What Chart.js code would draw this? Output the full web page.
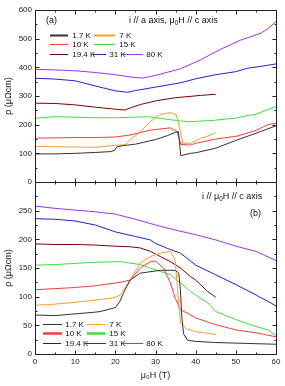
<!DOCTYPE html>
<html>
<head>
<meta charset="utf-8">
<script src="https://cdn.jsdelivr.net/npm/chart.js@4.4.1/dist/chart.umd.min.js"></script>
<style>
  html, body { margin: 0; padding: 0; background: #fff; }
</style>
</head>
<body>
<canvas id="chart" width="285" height="386"></canvas>
<script>
// tick values
var fieldTicks = [0, 10, 20, 30, 40, 50, 60];
var topTicks = [0, 100, 200, 300, 400, 500, 600];
var bottomTicks = [0, 50, 100, 150, 200, 250];

var temps = ['1.7 K', '7 K', '10 K', '15 K', '19.4 K', '31 K', '80 K'];
var colors = ['#333333', '#ff9a2e', '#ff3b3b', '#3ddf3d', '#800000', '#2020e0', '#9933ff'];

// panel (a): i // a axis, field // c axis   [field (T), rho (uOhm cm)]
var a1_7K = [[0,98],[5,98],[10,100],[15,103],[18.7,106],[19.8,110],[20.4,123],[22,127],[25,132],[30,148],[33,162],[34.9,173],[35.7,176],[36.3,92],[38.7,100],[40,102],[45,118],[50,145],[55,170],[60,196]];
var a7K = [[0,124],[5,123],[10,122],[15,121],[18.7,126],[20,128],[22.4,130],[24,150],[26.2,175],[28.7,210],[31.2,236],[33.7,242],[35.2,234],[36.2,175],[36.8,135],[38.7,135],[41.2,152],[43,160],[45,172]];
var a10K = [[0,153],[5,154],[10,155],[15,155],[20,157],[23.7,164],[28.7,181],[33.7,189],[35.4,175],[36.3,131],[38.7,129],[40,135],[45,150],[50.3,160],[55,180],[58,200],[60,205]];
var a15K = [[0,222],[5,228],[10,226],[15,224],[20,224],[25,226],[28,228],[30,224],[35,215],[38,210],[44.5,215],[50,223],[52.9,232],[55,236],[58.7,257],[60,263]];
var a19_4K = [[0,275],[5,274],[10,269],[15,261],[20,254],[22.4,251],[24,260],[26.2,270],[30,283],[35,294],[41.2,302],[45,306]];
var a31K = [[0,362],[5,359],[10,353],[15,335],[20,318],[23,313],[25,319],[30,331],[36.2,346],[40,360],[44.5,373],[50,385],[52.9,397],[56,403],[60,412]];
var a80K = [[0,393],[5,391],[10,388],[15,382],[20,374],[25,364],[27,363],[30,372],[33,383],[36.2,395],[41.2,426],[46.2,463],[51.2,495],[56.2,519],[58,535],[60,560]];

// panel (b): i // field // c axis
var b1_7K = [[0,68],[5,67],[10,70],[15,73],[16.2,74],[20,81],[21,90],[22.4,112],[23.7,129],[26.2,141],[31.2,146],[34.9,146],[35.8,141],[36.2,112],[36.6,60],[37,35],[38,24],[40,22],[45,20],[50,19],[55,18],[60,17]];
var b7K = [[0,85],[5,87],[10,90],[15,94],[18.7,97],[20,99],[21.2,103],[23.7,129],[26.2,159],[28.7,170],[31.2,176],[33.7,179],[34.9,164],[35.5,112],[36.2,54],[38,43],[40,39],[45,34]];
var b10K = [[0,112],[5,114],[10,116],[15,119],[21.2,125],[23.7,129],[26.2,150],[28.7,161],[30,162],[32,150],[33.7,124],[34.9,97],[36.2,77],[38,71],[40,63],[45,51],[50,42],[55,37],[60,30]];
var b15K = [[0,155],[5,156],[10,158],[15,160],[21.2,161],[26.2,156],[28.7,150],[31.2,144],[33.7,138],[36.2,124],[38.7,109],[40,103],[43,89],[45,74],[50,60],[55,48],[58,42],[60,32]];
var b19_4K = [[0,192],[5,191],[10,191],[15,190],[20,188],[23.7,187],[26.2,185],[28.7,179],[31.2,170],[33.7,161],[36.2,150],[38.7,135],[40,129],[43,109],[45,99]];
var b31K = [[0,236],[5,235],[10,232],[15,225],[20,213],[25,205],[28.7,199],[30,193],[33,184],[36.2,176],[40,155],[45,138],[50,121],[55,103],[60,84]];
var b80K = [[0,258],[5,254],[10,251],[15,248],[20,244],[25,235],[30,225],[35,216],[40,208],[45,199],[50,188],[55,179],[60,163]];

var seriesA = [a1_7K, a7K, a10K, a15K, a19_4K, a31K, a80K];
var seriesB = [b1_7K, b7K, b10K, b15K, b19_4K, b31K, b80K];

var FONT = '"Liberation Sans", Arial, sans-serif';

function makeSet(points, i, axisId) {
    return {
        label: temps[i],
        data: points.map(function (p) { return { x: p[0], y: p[1] }; }),
        yAxisID: axisId,
        borderColor: colors[i],
        borderWidth: 1,
        pointRadius: 0,
        tension: 0,
        fill: false
    };
}

var datasets = [];
seriesA.forEach(function (s, i) { datasets.push(makeSet(s, i, 'yA')); });
seriesB.forEach(function (s, i) { datasets.push(makeSet(s, i, 'yB')); });

// legend slots: [line start, line end, text x, y, line width]
var legendA = [[50,68,70,35,2],[94,115,117,35,2],[50,68,70,44,1],[94,115,117,44,1],[50,68,70,54,1],[93,106,107,54,1],[123,143,144,54,1]];
var legendB = [[43,62,63,324,1],[87,105,107,324,1],[43,62,63,333,2.5],[87,105,107,333,2.5],[43,61,63,343,1],[86,106,107,343,1],[123,143,144,343,1]];

// text with a subscript 0
function drawSubText(ctx, parts, x, y, size) {
    var cx = x;
    parts.forEach(function (p) {
        var sub = p[1];
        ctx.font = (sub ? size * 0.7 : size) + 'px ' + FONT;
        ctx.fillText(p[0], cx, sub ? y + size * 0.3 : y);
        cx += ctx.measureText(p[0]).width;
    });
}

var framePlugin = {
    id: 'frame',
    afterDatasetsDraw: function (chart) {
        var ctx = chart.ctx;
        var xs = chart.scales.x;
        ctx.save();
        ctx.strokeStyle = '#222';
        ctx.lineWidth = 1;

        [['yA', 100], ['yB', 50]].forEach(function (ax) {
            var ys = chart.scales[ax[0]];
            var step = ax[1] / 2;
            var top = Math.round(ys.top) + 0.5, bot = Math.round(ys.bottom) + 0.5;
            var left = Math.round(xs.left) + 0.5, right = Math.round(xs.right) + 0.5;
            ctx.strokeRect(left, top, right - left, bot - top);
            ctx.beginPath();
            for (var v = 0; v <= 60; v += 5) {
                var px = Math.round(xs.getPixelForValue(v)) + 0.5;
                var len = v % 10 === 0 ? 4 : 2;
                ctx.moveTo(px, bot); ctx.lineTo(px, bot - len);
                ctx.moveTo(px, top); ctx.lineTo(px, top + len);
            }
            for (var w = ys.min; w <= ys.max; w += step) {
                var py = Math.round(ys.getPixelForValue(w)) + 0.5;
                var l2 = w % ax[1] === 0 ? 4 : 2;
                ctx.moveTo(left, py); ctx.lineTo(left + l2, py);
                ctx.moveTo(right, py); ctx.lineTo(right - l2, py);
            }
            ctx.stroke();
        });

        // legends
        ctx.textBaseline = 'middle';
        ctx.textAlign = 'left';
        [legendA, legendB].forEach(function (slots) {
            slots.forEach(function (s, i) {
                ctx.beginPath();
                ctx.strokeStyle = colors[i];
                ctx.lineWidth = s[4];
                ctx.moveTo(s[0], s[3] + 0.5);
                ctx.lineTo(s[1], s[3] + 0.5);
                ctx.stroke();
                ctx.fillStyle = '#111';
                ctx.font = '8px ' + FONT;
                ctx.fillText(' ' + temps[i], s[2], s[3] + 0.5);
            });
        });

        // annotations
        ctx.fillStyle = '#111';
        ctx.font = '9px ' + FONT;
        ctx.fillText('(a)', 46, 21);
        drawSubText(ctx, [['i // a axis, \u03bc', 0], ['0', 1], ['H // c axis', 0]], 129, 21, 9);
        drawSubText(ctx, [['i // \u03bc', 0], ['0', 1], ['H // c axis', 0]], 202, 197, 9);
        ctx.font = '9px ' + FONT;
        ctx.fillText('(b)', 250, 214);
        ctx.restore();
    }
};

function yAxis(min, max, step, hideTop) {
    return {
        type: 'linear',
        position: 'left',
        stack: 'rho',
        stackWeight: 1,
        min: min,
        max: max,
        grid: { display: false, drawTicks: false },
        border: { display: false },
        ticks: {
            stepSize: step,
            autoSkip: false,
            padding: 3,
            color: '#222',
            font: { family: FONT, size: 8 },
            callback: function (v) { return (hideTop && v === max) ? '' : v; }
        },
        title: {
            display: true,
            text: '\u03c1 (\u03bc\u03a9cm)',
            color: '#222',
            font: { family: FONT, size: 9 },
            padding: { top: 3, bottom: 0 }
        },
        afterFit: function (s) { s.width = 35; }
    };
}

new Chart(document.getElementById('chart'), {
    type: 'line',
    data: { datasets: datasets },
    options: {
        responsive: false,
        animation: false,
        devicePixelRatio: 1,
        layout: { padding: { top: 10, right: 9, left: 0, bottom: 0 } },
        plugins: { legend: { display: false }, tooltip: { enabled: false } },
        scales: {
            x: {
                type: 'linear',
                min: 0,
                max: 60,
                grid: { display: false, drawTicks: false },
                border: { display: false },
                ticks: {
                    stepSize: 10,
                    autoSkip: false,
                    padding: 3,
                    color: '#222',
                    font: { family: FONT, size: 8 }
                },
                title: {
                    display: true,
                    text: '\u03bc\u2080H (T)',
                    color: '#222',
                    font: { family: FONT, size: 9 },
                    padding: { top: 0, bottom: 5 }
                },
                afterFit: function (s) { s.height = 32; }
            },
            // stacked axes are placed last-defined on top
            yB: yAxis(0, 300, 50, true),
            yA: yAxis(0, 600, 100, false)
        }
    },
    plugins: [framePlugin]
});
</script>
</body>
</html>
